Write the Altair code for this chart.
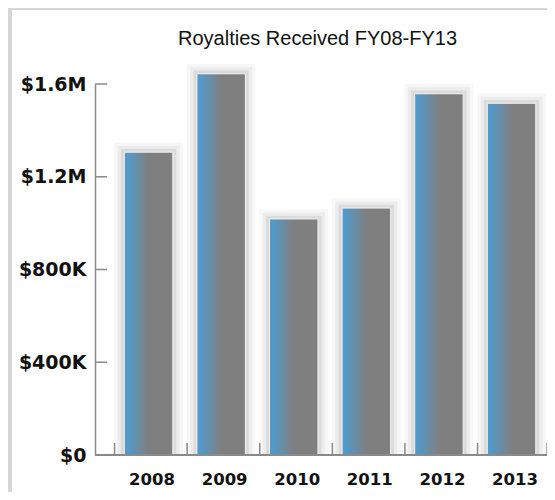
import altair as alt
import pandas as pd

years = ["2008", "2009", "2010", "2011", "2012", "2013"]
royalties = [1306000, 1644000, 1018000, 1065000, 1558000, 1517000]
y_ticks = [0, 400000, 800000, 1200000, 1600000]
y_labels = ["$0", "$400K", "$800K", "$1.2M", "$1.6M"]

df = pd.DataFrame({"year": years, "value": royalties})
df_ticks = pd.DataFrame({"v": y_ticks})

label_expr = ("datum.value == 0 ? '$0' : datum.value < 1000000 ? '$' + format(datum.value/1000, 'd') + 'K'"
              " : '$' + format(datum.value/1000000, '.1f') + 'M'")

xscale = alt.Scale(domain=years, paddingInner=0.332, paddingOuter=0.279, align=0.723)
yscale = alt.Scale(domain=[0, 1600000], nice=False, zero=True)

X = alt.X("year:N", scale=xscale, sort=years,
          axis=alt.Axis(title=None, domain=False, ticks=False, labelAngle=0, zindex=2,
                        labelFont="DejaVu Sans", labelFontWeight="bold", labelFontSize=16.5,
                        labelColor="#111111", labelPadding=16, labelOffset=3.5))
Y = alt.Y("value:Q", scale=yscale,
          axis=alt.Axis(title=None, values=y_ticks, grid=False, ticks=False, zindex=2,
                        labelExpr=label_expr, domainColor="#8a8a8a", domainWidth=1.5,
                        labelFont="DejaVu Sans", labelFontWeight="bold", labelFontSize=19,
                        labelColor="#111111", labelPadding=9))

base = alt.Chart(df)

# decorative panel
panel = alt.Chart(df).mark_rect(color="white").encode(
    x=alt.value(-83), x2=alt.value(520), y=alt.value(-74), y2=alt.value(500))

shadow0 = base.transform_calculate(top="datum.value + 42000").mark_bar(
    color="#000000", opacity=0.03, width=alt.RelativeBandSize(1.42)).encode(x=X, y=alt.Y("top:Q", scale=yscale))
shadow1 = base.transform_calculate(top="datum.value + 28000").mark_bar(
    color="#000000", opacity=0.045, width=alt.RelativeBandSize(1.28)).encode(x=X, y=alt.Y("top:Q", scale=yscale))
shadow2 = base.transform_calculate(top="datum.value + 14000").mark_bar(
    color="#000000", opacity=0.07, width=alt.RelativeBandSize(1.14)).encode(x=X, y=alt.Y("top:Q", scale=yscale))

grad = alt.Gradient(gradient="linear",
                    stops=[alt.GradientStop(color="#4d9dd4", offset=0),
                           alt.GradientStop(color="#7f7f7f", offset=0.5),
                           alt.GradientStop(color="#7f7f7f", offset=1)],
                    x1=0, x2=1, y1=0, y2=0)

bars = base.mark_bar(color=grad, stroke="#f4f4f4", strokeWidth=1).encode(x=X, y=Y)

xline = alt.Chart(df).mark_rule(color="#8a8a8a", strokeWidth=1.5).encode(
    x=alt.value(0), x2=alt.value(453), y=alt.value(371))

xticks = base.mark_rule(color="#8a8a8a", strokeWidth=1.5, xOffset=-34).encode(
    x=alt.X("year:N", scale=xscale, sort=years), y=alt.value(371), y2=alt.value(359))
xtick_end = alt.Chart(pd.DataFrame({"year": ["2013"]})).mark_rule(
    color="#8a8a8a", strokeWidth=1.5, xOffset=35.5).encode(
    x=alt.X("year:N", scale=xscale, sort=years), y=alt.value(371), y2=alt.value(359))

yticks = alt.Chart(df_ticks).mark_rule(color="#8a8a8a", strokeWidth=1.5).encode(
    y=alt.Y("v:Q", scale=yscale), x=alt.value(0), x2=alt.value(12))

chart = alt.layer(panel, shadow0, shadow1, shadow2, bars, xline, xticks, xtick_end, yticks).properties(
    width=452, height=371,
    autosize=alt.AutoSizeParams(type="none"),
    padding={"left": 87, "top": 76, "right": 0, "bottom": 37},
    background="#d6d6d6",
    title=alt.TitleParams("Royalties Received FY08-FY13", font="Liberation Sans",
                          fontSize=20, fontWeight="normal", color="#111111",
                          frame="group", anchor="middle", dx=-3.5, offset=-55,
                          baseline="alphabetic"),
).configure_view(stroke=None)

chart.save("out.html", embed_options={"renderer": "svg", "actions": False})
